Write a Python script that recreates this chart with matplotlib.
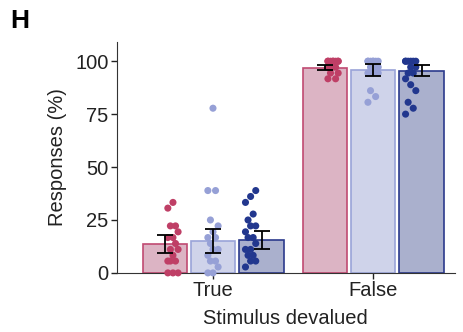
import matplotlib
matplotlib.use('Agg')
import matplotlib.pyplot as plt
import numpy as np

plt.rcParams['font.family'] = ['Liberation Sans', 'DejaVu Sans']

# data
groups = ['True', 'False']
conditions = ['c1', 'c2', 'c3']
bar_means = {'c1': [13.5, 97.0], 'c2': [15.0, 96.0], 'c3': [15.5, 95.5]}
bar_sem = {'c1': [4.3, 1.0], 'c2': [5.8, 2.8], 'c3': [4.3, 2.5]}

points = {
    'c1': [
        [0, 0, 0, 5.6, 5.6, 5.6, 8.3, 11.1, 11.1, 13.9, 16.7, 16.7, 19.4, 22.2, 22.2, 30.6, 33.3],
        [100, 100, 100, 100, 100, 100, 100, 100, 97.2, 97.2, 97.2, 97.2, 94.4, 94.4, 91.7, 91.7],
    ],
    'c2': [
        [0, 0, 2.8, 5.6, 5.6, 8.3, 11.1, 11.1, 13.9, 16.7, 16.7, 19.4, 22.2, 25.0, 38.9, 38.9, 77.8],
        [100, 100, 100, 100, 100, 100, 100, 97.2, 97.2, 97.2, 94.4, 94.4, 94.4, 86.1, 83.3, 80.6],
    ],
    'c3': [
        [2.8, 5.6, 5.6, 8.3, 8.3, 11.1, 11.1, 13.9, 16.7, 16.7, 19.4, 22.2, 22.2, 25.0, 27.8, 33.3, 36.1, 38.9],
        [100, 100, 100, 100, 100, 100, 97.2, 97.2, 94.4, 94.4, 91.7, 88.9, 86.1, 80.6, 77.8, 75.0],
    ],
}

face = {'c1': '#dcb4c4', 'c2': '#cfd3ea', 'c3': '#aab0cd'}
edge = {'c1': '#c04a72', 'c2': '#9aa3d8', 'c3': '#2b3a8c'}
dotc = {'c1': '#bf3f66', 'c2': '#96a0d6', 'c3': '#22378e'}
bar_off = {'c1': -0.30, 'c2': 0.0, 'c3': 0.305}
dot_shift = {'c1': 0.05, 'c2': 0.0, 'c3': -0.07}
width = 0.28

fig = plt.figure(figsize=(4.64, 3.32), dpi=100)
ax = fig.add_axes([0.252, 0.178, 0.728, 0.695])

x = np.arange(len(groups))
for c in conditions:
    ax.bar(x + bar_off[c], bar_means[c], width, color=face[c],
           edgecolor=edge[c], linewidth=1.2, zorder=1)
    for g in range(len(groups)):
        vals = points[c][g]
        jit = np.array([((i * 7) % 5 - 2) * 0.016 for i in range(len(vals))])
        ax.scatter(x[g] + bar_off[c] + dot_shift[c] + jit, vals, s=26,
                   color=dotc[c], edgecolor='none', zorder=3, clip_on=False)
    ax.errorbar(x + bar_off[c], bar_means[c], yerr=bar_sem[c], fmt='none',
                ecolor='black', elinewidth=1.3, capsize=6, capthick=1.3, zorder=4)

ax.set_xlim(-0.6, 1.51)
ax.set_ylim(0, 109)
ax.set_yticks([0, 25, 50, 75, 100])
ax.set_xticks(x)
ax.set_xticklabels(groups)
ax.tick_params(labelsize=14.5, colors='#222222', length=4, width=1, pad=2)
ax.spines['top'].set_visible(False)
ax.spines['right'].set_visible(False)
ax.spines['left'].set_color('#333333')
ax.spines['bottom'].set_color('#333333')
ax.set_ylabel('Responses (%)', fontsize=14.5, color='#222222', labelpad=6)
ax.set_xlabel('Stimulus devalued', fontsize=14.5, color='#222222', labelpad=6)

fig.text(0.022, 0.915, 'H', fontsize=19, fontweight='bold')

fig.savefig('out.png', dpi=100)
